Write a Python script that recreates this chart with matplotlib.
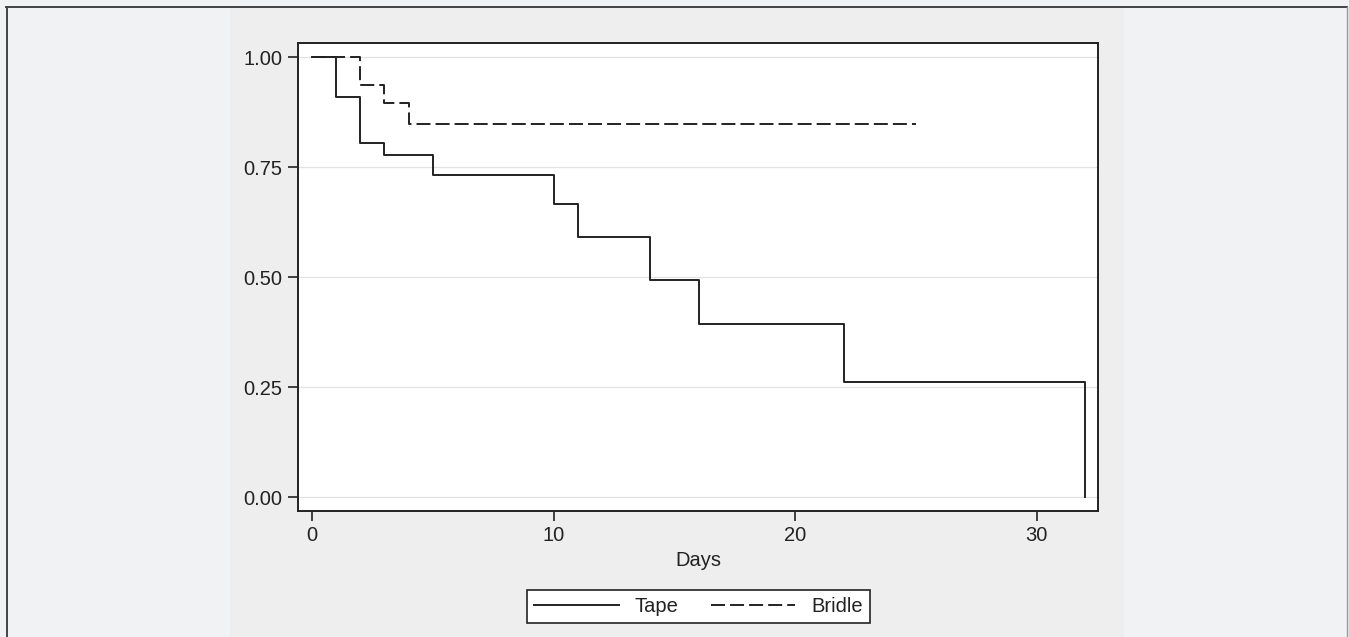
import matplotlib
matplotlib.use("Agg")
import matplotlib.pyplot as plt
from matplotlib.lines import Line2D
from matplotlib.patches import Rectangle

# Kaplan-Meier step data
tape_days = [0, 1, 2, 3, 5, 10, 11, 14, 16, 22, 32]
tape_surv = [1.0, 0.909, 0.806, 0.778, 0.733, 0.667, 0.592, 0.495, 0.395, 0.262, 0.0]
bridle_days = [0, 2, 3, 4, 25]
bridle_surv = [1.0, 0.937, 0.895, 0.849, 0.849]

y_ticks = [0, 0.25, 0.5, 0.75, 1.0]
x_ticks = [0, 10, 20, 30]

W, H = 1349, 637
plt.rcParams['font.family'] = ['Liberation Sans', 'DejaVu Sans']
ink = '#222222'

fig = plt.figure(figsize=(W / 100, H / 100), dpi=100, facecolor='#f1f2f4')

# graph region and outer frame
fig.add_artist(Rectangle((230 / W, 0), (1124 - 230) / W, 1 - 7 / H,
                         transform=fig.transFigure, facecolor='#eeeeee',
                         edgecolor='none', zorder=0))
frame_kw = dict(transform=fig.transFigure, color='#444444', lw=1.4)
fig.add_artist(Line2D([6 / W, 1347 / W], [1 - 6.5 / H, 1 - 6.5 / H], **frame_kw))
fig.add_artist(Line2D([6.5 / W, 6.5 / W], [0, 1 - 6.5 / H], **frame_kw))
fig.add_artist(Line2D([1347 / W, 1347 / W], [0, 1 - 6.5 / H], color='#999999', lw=1,
                      transform=fig.transFigure))

ax = fig.add_axes([298 / W, (H - 510.7) / H, 800 / W, 468 / H])
ax.set_facecolor('white')

ax.step(tape_days, tape_surv, where='post', color=ink, lw=1.4, label='Tape')
ax.step(bridle_days, bridle_surv, where='post', color=ink, lw=1.4,
        dashes=(7.2, 2.6), label='Bridle')

ax.set_xlim(-0.58, 32.53)
ax.set_ylim(-0.030, 1.033)
ax.set_xticks(x_ticks)
ax.set_yticks(y_ticks)
ax.set_yticklabels([f'{v:.2f}' for v in y_ticks])
ax.tick_params(axis='both', length=7.5, width=1.2, color=ink, labelcolor=ink,
               labelsize=14.5, pad=3.5)
ax.grid(axis='y', color='#e2e2e2', lw=0.9)
ax.set_axisbelow(True)
for s in ax.spines.values():
    s.set_color(ink)
    s.set_linewidth(1.4)

ax.set_xlabel('Days', fontsize=14.5, color=ink, labelpad=4)

leg = fig.legend(loc='center', bbox_to_anchor=(698.5 / W, (H - 606.5) / H),
                 bbox_transform=fig.transFigure, ncol=2, fontsize=14.5,
                 frameon=True, fancybox=False, edgecolor=ink, facecolor='white',
                 framealpha=1, handlelength=4.2, handletextpad=0.8,
                 columnspacing=1.6, borderpad=0.35)
leg.get_frame().set_linewidth(1.2)
for t in leg.get_texts():
    t.set_color(ink)

fig.savefig('out.png', dpi=100, facecolor=fig.get_facecolor())
